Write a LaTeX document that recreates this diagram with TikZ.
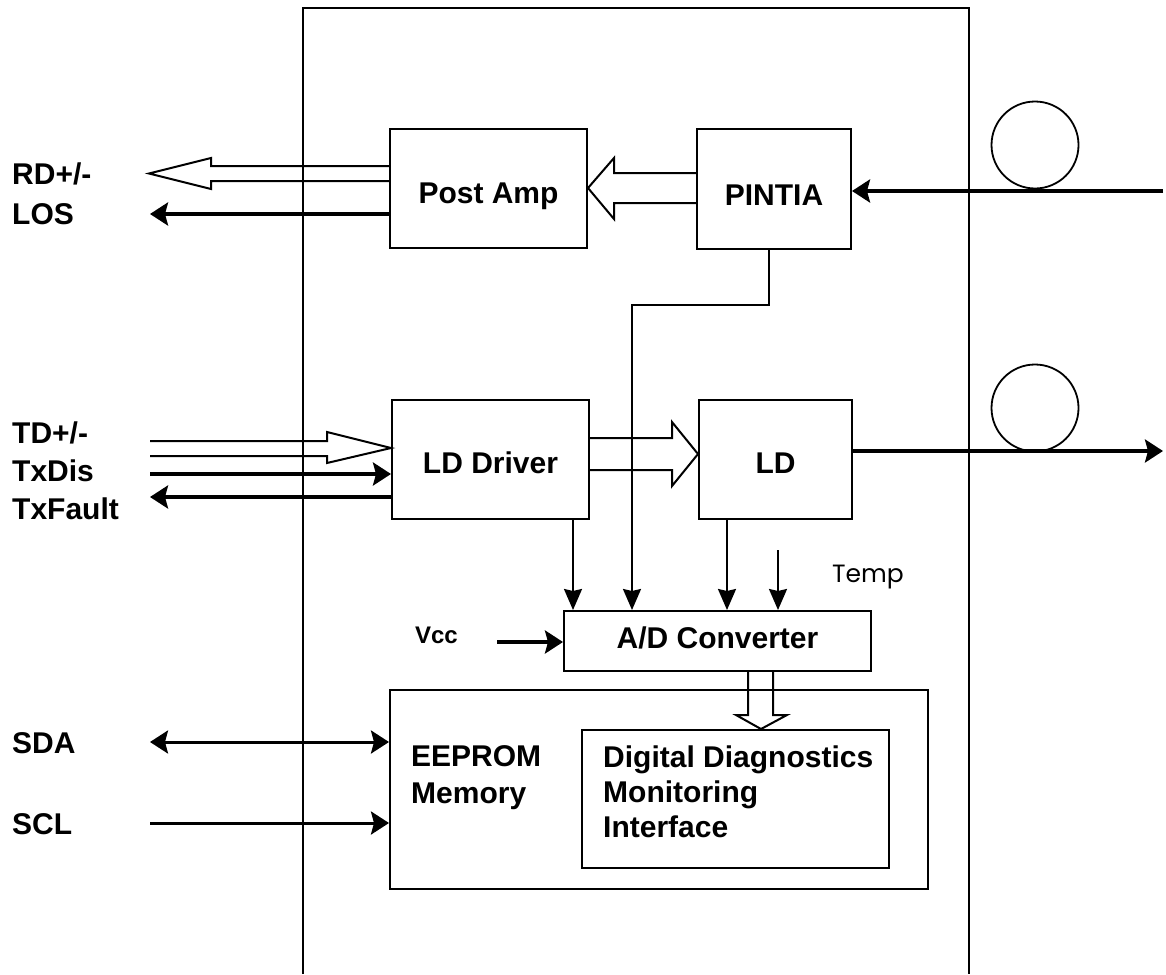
\documentclass[tikz,border=0pt]{standalone}
\usepackage{fontspec}
\setmainfont{Liberation Sans}
\newfontfamily\tempfont{Poppins}
\usetikzlibrary{arrows.meta}
\begin{document}
\begin{tikzpicture}[x=1pt,y=-1pt,
  box/.style={draw, line width=2pt, inner sep=0pt},
  lbl/.style={anchor=base, inner sep=0pt, font=\fontsize{30}{36}\selectfont\bfseries},
  lblw/.style={lbl, anchor=base west},
  thinln/.style={line width=2pt},
  medln/.style={line width=3pt},
  thickln/.style={line width=3.6pt},
  tipA/.style={-{Stealth[length=18pt,width=23pt,inset=3pt]}},
  tipB/.style={-{Stealth[length=21pt,width=18pt,inset=2pt]}},
  hollow/.style={line width=2pt, line join=miter}
]
\useasboundingbox (0,0) rectangle (1166,974);

% outer module outline (open at the bottom)
\draw[thinln] (303,974) -- (303,8) -- (969,8) -- (969,974);

% blocks
\node[box, minimum width=197pt, minimum height=119pt] (pa)  at (488.5,188.5) {};
\node[box, minimum width=154pt, minimum height=120pt] (pin) at (774,189) {};
\node[box, minimum width=197pt, minimum height=119pt] (ldd) at (490.5,459.5) {};
\node[box, minimum width=153pt, minimum height=119pt] (ld)  at (775.5,459.5) {};
\node[box, minimum width=307pt, minimum height=60pt]  (ad)  at (717.5,641) {};
\node[box, minimum width=538pt, minimum height=199pt] (ee)  at (659,789.5) {};
\node[box, minimum width=307pt, minimum height=138pt] (dd)  at (735.5,799) {};

% fibre loops
\node[draw, circle, line width=1.8pt, minimum size=87pt, inner sep=0pt] (c1) at (1035,145) {};
\node[draw, circle, line width=1.8pt, minimum size=87pt, inner sep=0pt] (c2) at (1035,408) {};

% block texts
\node[lbl] (tpa)  at (488.5,203) {Post Amp};
\node[lbl] (tpin) at (774,205) {PINTIA};
\node[lbl] (tldd) at (490.5,473) {LD Driver};
\node[lbl] (tld)  at (775.5,473) {LD};
\node[lbl] (tad)  at (717.5,648) {A/D Converter};
\node[lblw] (tee1) at (411,766) {EEPROM};
\node[lblw] (tee2) at (411,803) {Memory};
\node[lblw] (tdd1) at (603,767) {Digital Diagnostics};
\node[lblw] (tdd2) at (603,802) {Monitoring};
\node[lblw] (tdd3) at (603,837) {Interface};

% side labels
\node[lblw] (lrd)  at (12,184) {RD+/-};
\node[lblw] (llos) at (12,224) {LOS};
\node[lblw] (ltd)  at (12,443) {TD+/-};
\node[lblw] (ltxd) at (12,481) {TxDis};
\node[lblw] (ltxf) at (12,519) {TxFault};
\node[lblw] (lsda) at (12,753) {SDA};
\node[lblw] (lscl) at (12,834) {SCL};
\node[anchor=base east, inner sep=0pt, font=\fontsize{24}{28}\selectfont\bfseries] (lvcc) at (458,643) {Vcc};
\node[anchor=base west, inner sep=0pt, font=\fontsize{25}{30}\selectfont\tempfont] (ltmp) at (832,582) {Temp};

% free ends
\coordinate (losend) at (150,214);
\coordinate (txdin)  at (150,474);
\coordinate (txfout) at (150,497);
\coordinate (sda)    at (150,742);
\coordinate (scl)    at (150,823);
\coordinate (fin)    at (1163,191);
\coordinate (fout)   at (1163,451);
\coordinate (tmp)    at (778,550);
\coordinate (vcc)    at (497,642);

% hollow (bus) arrows
\draw[hollow] (pa.west |- 0,166) -- (211,166) -- (211,158) -- (149,173.5)
  -- (211,189) -- (211,181) -- (pa.west |- 0,181);
\draw[hollow] (pin.west |- 0,173) -- (614,173) -- (614,158) -- (pa.east |- 0,188)
  -- (614,219) -- (614,203) -- (pin.west |- 0,203);
\draw[hollow] (150,441) -- (327,441) -- (327,432) -- (ldd.west |- 0,448)
  -- (327,463) -- (327,456) -- (150,456);
\draw[hollow] (ldd.east |- 0,438) -- (672,438) -- (672,422) -- (ld.west |- 0,454)
  -- (672,486) -- (672,470) -- (ldd.east |- 0,470);
\draw[hollow] (ad.south -| 748,0) -- (748,715) -- (736,715) -- (dd.north -| 761,0)
  -- (787,715) -- (773,715) -- (ad.south -| 773,0);

% signal arrows
\draw[thickln, tipA] (pa.west |- losend) -- (losend);
\draw[thickln, tipA] (txdin) -- (ldd.west |- txdin);
\draw[thickln, tipA] (ldd.west |- txfout) -- (txfout);
\draw[thickln, tipA] (fin) -- (pin.east |- fin);
\draw[thickln, tipA] (ld.east |- fout) -- (fout);
\draw[medln, {Stealth[length=18pt,width=23pt,inset=3pt]}-{Stealth[length=18pt,width=23pt,inset=3pt]}] (sda) -- (ee.west |- sda);
\draw[medln, tipA] (scl) -- (ee.west |- scl);
\draw[thickln, tipA] (vcc) -- (ad.west |- vcc);

% monitor lines into the A/D converter
\draw[thinln, tipB] (pin.south -| 769,0) -- (769,305) -- (632,305) -- (ad.north -| 632,0);
\draw[thinln, tipB] (ldd.south -| 573,0) -- (ad.north -| 573,0);
\draw[thinln, tipB] (ld.south -| 727,0) -- (ad.north -| 727,0);
\draw[thinln, tipB] (tmp) -- (ad.north -| tmp);
\end{tikzpicture}
\end{document}
